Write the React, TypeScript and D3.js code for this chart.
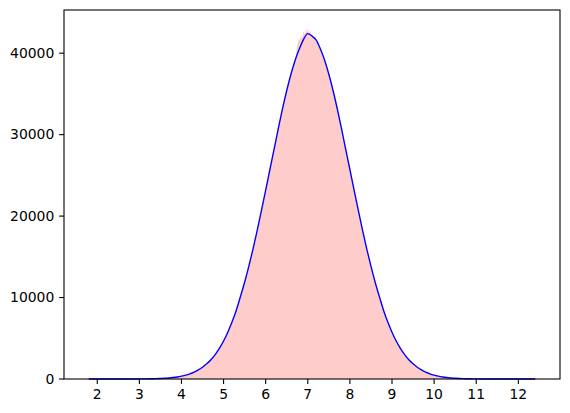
import React from "react";
import * as d3 from "d3";

// Histogram bin centres (step 0.1) and bin counts
const binStart = 1.8;
const binStep = 0.1;
const counts: number[] = [
  // 1.8 .. 2.9
  1, 0, 1, 0, 1, 1, 1, 2, 2, 3, 4, 6,
  // 3.0 .. 3.9
  9, 14, 20, 30, 44, 65, 93, 130, 180, 250,
  // 4.0 .. 4.9
  350, 470, 630, 840, 1110, 1440, 1860, 2360, 2990, 3750,
  // 5.0 .. 5.9
  4660, 5740, 6990, 8420, 10110, 11880, 13850, 15980, 18280, 20690,
  // 6.0 .. 6.9
  23180, 25720, 28210, 30760, 33180, 35420, 37420, 39140, 40530, 41700,
  // 7.0 .. 7.9
  42400, 42100, 41600, 40500, 39140, 37420, 35420, 33180, 30760, 28210,
  // 8.0 .. 8.9
  25720, 23180, 20690, 18280, 15980, 13850, 11880, 10110, 8420, 6990,
  // 9.0 .. 9.9
  5740, 4660, 3750, 2990, 2360, 1860, 1440, 1110, 840, 630,
  // 10.0 .. 10.9
  470, 350, 250, 180, 130, 93, 65, 44, 30, 20,
  // 11.0 .. 11.9
  14, 9, 6, 4, 2, 1, 1, 1, 0, 1,
  // 12.0 .. 12.4
  0, 1, 0, 0, 1,
];
// Finer, noisy bins of the filled histogram near the peak (step 0.02, 6.76 .. 7.24)
const peakStart = 6.76;
const peakStep = 0.02;
const peakCounts: number[] = [
  41300, 41700, 41500, 42000, 41800, 42300, 42000, 42700, 42300, 42900,
  42500, 43100, 42600, 42900, 42400, 42800, 42200, 42500, 41900, 42100,
  41600, 41800, 41300, 41400, 40900,
];
const xTicks = [2, 3, 4, 5, 6, 7, 8, 9, 10, 11, 12];
const yTicks = [0, 10000, 20000, 30000, 40000];

const W = 570;
const H = 413;
const left = 64, right = 560, top = 10, bottom = 379;

export default function App() {
  const x = d3.scaleLinear().domain([1.21, 12.99]).range([left, right]);
  const y = d3.scaleLinear().domain([0, 45300]).range([bottom, top]);
  const pts: [number, number][] = counts.map((c, i) => [binStart + i * binStep, c]);
  const peakPts: [number, number][] = peakCounts.map((c, i) => [peakStart + i * peakStep, c]);
  const pLo = peakPts[0][0] - 0.001;
  const pHi = peakPts[peakPts.length - 1][0] + 0.001;
  const fillPts: [number, number][] = [
    ...pts.filter((d) => d[0] < pLo),
    ...peakPts,
    ...pts.filter((d) => d[0] > pHi),
  ];

  const area = d3
    .area<[number, number]>()
    .x((d) => x(d[0]))
    .y0(y(0))
    .y1((d) => y(d[1]))
    .curve(d3.curveMonotoneX);
  const line = d3
    .line<[number, number]>()
    .x((d) => x(d[0]))
    .y((d) => y(d[1]))
    .curve(d3.curveMonotoneX);

  const font = "DejaVu Sans, sans-serif";
  const fs = 13.9;

  return (
    <svg
      width={W}
      height={H}
      style={{ position: "absolute", left: 0, top: 0, background: "#fff" }}
    >
      <path d={area(fillPts) ?? ""} fill="rgba(255,0,0,0.2)" stroke="none" />
      <path d={line(pts) ?? ""} fill="none" stroke="blue" strokeWidth={1.4} />
      <rect
        x={left}
        y={top}
        width={right - left}
        height={bottom - top}
        fill="none"
        stroke="#000"
        strokeWidth={1.1}
      />
      {xTicks.map((t) => (
        <g key={"x" + t}>
          <line x1={x(t)} x2={x(t)} y1={bottom} y2={bottom + 4.9} stroke="#000" strokeWidth={1.1} />
          <text
            x={x(t)}
            y={bottom + 9.7}
            dy="0.76em"
            textAnchor="middle"
            fontFamily={font}
            fontSize={fs}
            fill="#000"
          >
            {t}
          </text>
        </g>
      ))}
      {yTicks.map((t) => (
        <g key={"y" + t}>
          <line x1={left - 4.9} x2={left} y1={y(t)} y2={y(t)} stroke="#000" strokeWidth={1.1} />
          <text
            x={left - 9.7}
            y={y(t)}
            dy="0.35em"
            textAnchor="end"
            fontFamily={font}
            fontSize={fs}
            fill="#000"
          >
            {t}
          </text>
        </g>
      ))}
    </svg>
  );
}
